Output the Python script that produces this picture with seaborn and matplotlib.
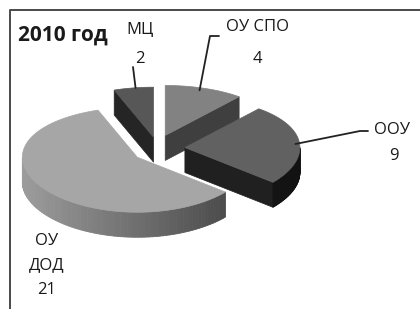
import numpy as np
import matplotlib
matplotlib.use("Agg")
import matplotlib.pyplot as plt
from matplotlib.patches import Polygon
from matplotlib.colors import to_rgb
import seaborn as sns

title = "2010 год"
labels = ["ОУ СПО", "ООУ", "ОУ ДОД", "МЦ"]
values = [4, 9, 21, 2]

top_colors = ["#828282", "#616161", "#a6a6a6", "#575757"]
side_colors = ["#4a4a4a", "#262626", "#8e8e8e", "#2c2c2c"]
explode = [24, 28, 24, 20]

sns.set_style("white")
plt.rcParams["font.family"] = ["Open Sans", "DejaVu Sans"]

fig = plt.figure(figsize=(4.2, 3.09), dpi=100)
ax = fig.add_axes([0, 0, 1, 1])
ax.set_xlim(0, 420)
ax.set_ylim(309, 0)
ax.axis("off")

# 3d pie geometry (screen units, y down); back half a bit flatter than the front
cx, cy, rx, depth, ke = 157, 149, 115, 25, 0.6
ry_mid, ry_tilt = 52.5, 2.5

fracs = np.array(values) / sum(values) * 360
ends = 90 - np.cumsum(fracs)
starts = ends + fracs


def rim(px, py, t, dz=0):
    t = np.radians(t)
    s = np.sin(t)
    return px + rx * np.cos(t), py - (ry_mid - ry_tilt * s) * s + dz


def shade(c, f):
    return tuple(np.clip(np.array(to_rgb(c)) * f, 0, 1))


slices = []
for i, v in enumerate(values):
    a, b = ends[i], starts[i]
    m = np.radians((a + b) / 2)
    px = cx + explode[i] * np.cos(m)
    py = cy - explode[i] * ke * np.sin(m)
    slices.append((py, i, a, b, px))

anchors = {}
for py, i, a, b, px in sorted(slices):
    # radial cut faces
    for ang, vis in [(a, np.cos(np.radians(a)) > 0.01), (b, np.cos(np.radians(b)) < -0.01)]:
        if vis:
            x1, y1 = rim(px, py, ang)
            face = [(px, py), (x1, y1), (x1, y1 + depth), (px, py + depth)]
            ax.add_patch(Polygon(face, closed=True, fc=shade(side_colors[i], 0.85),
                                 ec=shade(side_colors[i], 0.85), lw=0.5))
    # outer wall, only the front half
    ts = np.linspace(a, b, 120)
    for t0, t1 in zip(ts[:-1], ts[1:]):
        tm = (t0 + t1) / 2
        if np.sin(np.radians(tm)) >= 0:
            continue
        x0, y0 = rim(px, py, t0)
        x1, y1 = rim(px, py, t1)
        f = 0.78 + 0.32 * (-np.cos(np.radians(tm)))
        col = shade(side_colors[i], f)
        ax.add_patch(Polygon([(x0, y0), (x1, y1), (x1, y1 + depth), (x0, y0 + depth)],
                             closed=True, fc=col, ec=col, lw=0.6))
    # top face
    arc = [rim(px, py, t) for t in np.linspace(a, b, 120)]
    ax.add_patch(Polygon([(px, py)] + arc, closed=True, fc=top_colors[i],
                         ec=top_colors[i], lw=0.5))
    anchors[labels[i]] = rim(px, py, (a + b) / 2)

# leader lines
lc = "#222222"
x, y = anchors["МЦ"]
ax.plot([133, x + 2], [67, y], color=lc, lw=1.3)
x, y = anchors["ОУ СПО"]
ax.plot([219, 210, x - 5], [36, 36, y + 2], color=lc, lw=1.3)
x, y = anchors["ООУ"]
ax.plot([368, 360, x - 4], [131, 131, y + 1], color=lc, lw=1.3)

# labels
fs = 12
tc = "#1a1a1a"
ax.text(18, 35, title, fontsize=15, fontweight="bold", ha="left", va="center", color=tc)
ax.text(140, 30, "МЦ", fontsize=fs, ha="center", va="center", color=tc)
ax.text(140, 59, str(values[3]), fontsize=fs, ha="center", va="center", color=tc)
ax.text(258, 27, "ОУ СПО", fontsize=fs, ha="center", va="center", color=tc)
ax.text(257, 59, str(values[0]), fontsize=fs, ha="center", va="center", color=tc)
ax.text(392, 130, "ООУ", fontsize=fs, ha="center", va="center", color=tc)
ax.text(394, 156, str(values[1]), fontsize=fs, ha="center", va="center", color=tc)
ax.text(47, 241, "ОУ", fontsize=fs, ha="center", va="center", color=tc)
ax.text(47, 265, "ДОД", fontsize=fs, ha="center", va="center", color=tc)
ax.text(47, 290, str(values[2]), fontsize=fs, ha="center", va="center", color=tc)

# chart frame (left and top edges visible)
ax.plot([9.5, 9.5, 420], [309, 9.5, 9.5], color="#4a4a4a", lw=1.4)

fig.savefig("out.png", dpi=100)
